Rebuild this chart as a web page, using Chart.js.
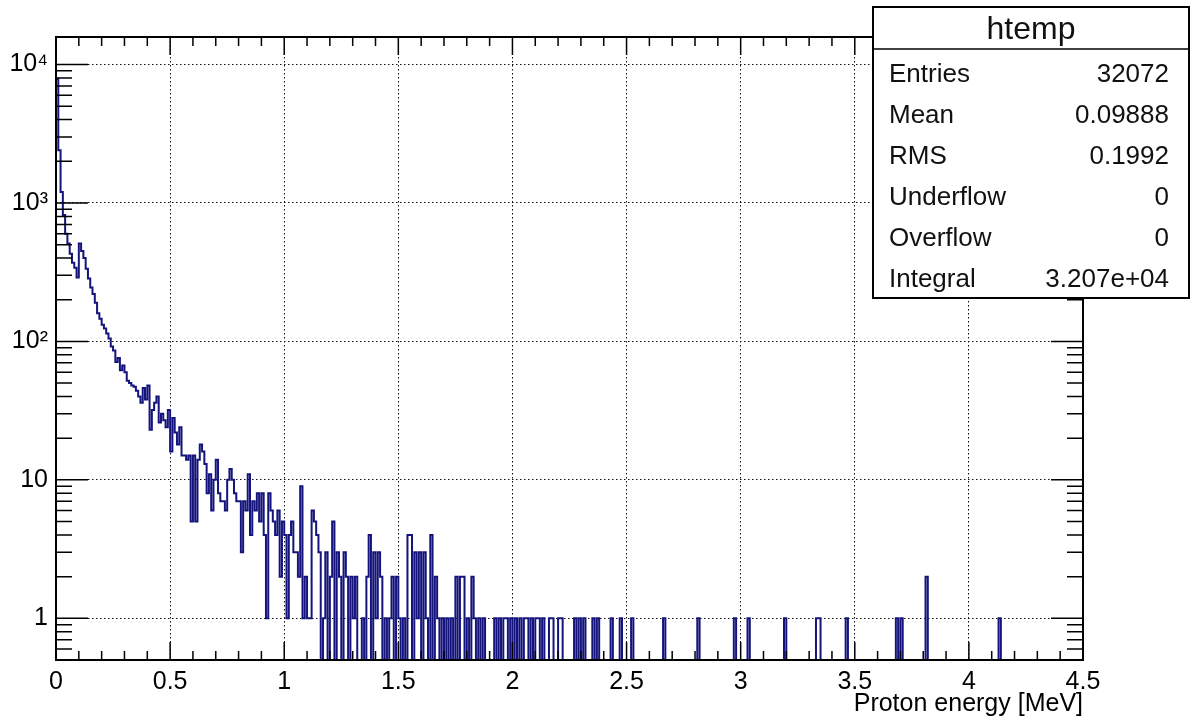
<!DOCTYPE html>
<html>
<head>
<meta charset="utf-8">
<script src="https://cdn.jsdelivr.net/npm/chart.js@4/dist/chart.umd.min.js"></script>
<style>
  html, body { margin: 0; padding: 0; background: #fff; }
  canvas { display: block; }
</style>
</head>
<body>
<canvas id="histo" width="1197" height="720"></canvas>
<script>
// Histogram binning (htemp, 0 - 4.5 MeV)
const xMin = 0;
const xMax = 4.5;
const nBins = 450;

// Bin contents, bins 0..187
const countsHead = [
  7900, 2400, 1200, 820, 600, 510, 430, 370, 340, 290,
  510, 450, 400, 335, 285, 245, 220, 190, 160, 146,
  132, 124, 114, 105, 92, 86, 71, 76, 62, 67,
  60, 52, 50, 48, 47, 44, 40, 36, 46, 38,
  48, 23, 32, 36, 40, 26, 30, 27, 24, 32,
  16, 28, 22, 18, 24, 15, 15, 14, 15, 5,
  15, 5, 14, 18, 16, 13, 8, 11, 6, 10,
  14, 8, 7, 7, 6, 10, 12, 10, 8, 7,
  7, 3, 7, 6, 11, 4, 7, 6, 8, 5,
  8, 4, 1, 8, 6, 5, 4, 6, 2, 5,
  4, 1, 4, 5, 3, 3, 2, 9, 1, 2,
  1, 1, 6, 5, 4, 3, 0, 1, 3, 0,
  2, 5, 0, 3, 2, 0, 3, 2, 0, 2,
  1, 2, 0, 0, 1, 0, 2, 4, 0, 3,
  1, 3, 2, 0, 1, 0, 1, 2, 0, 2,
  1, 0, 1, 0, 4, 4, 0, 3, 1, 3,
  0, 3, 1, 0, 4, 0, 2, 1, 0, 1,
  0, 1, 0, 1, 0, 2, 0, 2, 2, 0,
  1, 0, 2, 1, 0, 1, 0, 1
];

// Sparse tail: non-empty bins above bin 187
const tailBins = [192, 194, 196, 197, 199, 201, 203, 205, 206, 208, 210, 211, 213, 216, 217,
  220, 221, 227, 229, 231, 235, 237, 243, 247, 252, 266, 281, 297, 303,
  319, 333, 334, 346, 368, 370, 381, 413];
const tailCounts = [1, 1, 1, 1, 1, 1, 1, 1, 1, 1, 1, 1, 1, 1, 1,
  1, 1, 1, 1, 1, 1, 1, 1, 1, 1, 1, 1, 1, 1,
  1, 1, 1, 1, 1, 1, 2, 1];

// Axis ticks
const xTickValues = [0, 0.5, 1, 1.5, 2, 2.5, 3, 3.5, 4, 4.5];
const xTickLabels = ['0', '0.5', '1', '1.5', '2', '2.5', '3', '3.5', '4', '4.5'];
const yTickValues = [1, 10, 100, 1000, 10000];
const yTickLabels = ['1', '10', '10\u00B2', '10\u00B3', '10\u2074'];
const yMin = 0.5;
const yMax = 15800;

// Stats box
const statTitle = 'htemp';
const statLabels = ['Entries', 'Mean', 'RMS', 'Underflow', 'Overflow', 'Integral'];
const statValues = ['32072', '0.09888', '0.1992', '0', '0', '3.207e+04'];

const FONT = "'Liberation Sans', Arial, Helvetica, sans-serif";

// build full bin array
const counts = new Array(nBins).fill(0);
countsHead.forEach((c, i) => { counts[i] = c; });
tailBins.forEach((b, i) => { counts[b] = tailCounts[i]; });

// step points at bin left edges (+ closing edge); empty bins sit on the frame bottom
const binW = (xMax - xMin) / nBins;
const points = counts.map((c, i) => ({ x: xMin + i * binW, y: c > 0 ? c : yMin }));
points.push({ x: xMax, y: counts[nBins - 1] > 0 ? counts[nBins - 1] : yMin });

const rootFrame = {
  id: 'rootFrame',
  afterDatasetsDraw(chart) {
    const { ctx, chartArea: a, scales: { x, y } } = chart;
    ctx.save();
    ctx.strokeStyle = '#000';
    ctx.lineWidth = 1.5;
    ctx.beginPath();
    // x ticks, every 0.1, major every 0.5
    for (let k = 0; k <= 45; k++) {
      const px = x.getPixelForValue(k / 10);
      const len = k % 5 === 0 ? 18 : 9;
      ctx.moveTo(px, a.bottom); ctx.lineTo(px, a.bottom - len);
      ctx.moveTo(px, a.top); ctx.lineTo(px, a.top + len);
    }
    // y ticks, log decades with minors
    for (let d = -1; d <= 4; d++) {
      for (let k = 1; k <= 9; k++) {
        const v = k * Math.pow(10, d);
        if (v < yMin || v > yMax) continue;
        const py = y.getPixelForValue(v);
        const len = k === 1 ? 32 : 16;
        ctx.moveTo(a.left, py); ctx.lineTo(a.left + len, py);
        ctx.moveTo(a.right, py); ctx.lineTo(a.right - len, py);
      }
    }
    ctx.stroke();
    ctx.lineWidth = 2;
    ctx.strokeRect(a.left, a.top, a.right - a.left, a.bottom - a.top);
    ctx.restore();
  },
  afterDraw(chart) {
    const { ctx } = chart;
    const bx = 873, by = 7, bw = 316, bh = 291;
    ctx.save();
    ctx.fillStyle = '#fff';
    ctx.fillRect(bx, by, bw, bh);
    ctx.strokeStyle = '#000';
    ctx.lineWidth = 2;
    ctx.strokeRect(bx, by, bw, bh);
    ctx.lineWidth = 1.5;
    ctx.beginPath();
    ctx.moveTo(bx, 49); ctx.lineTo(bx + bw, 49);
    ctx.stroke();
    ctx.fillStyle = '#111';
    ctx.textBaseline = 'alphabetic';
    ctx.font = '32px ' + FONT;
    ctx.textAlign = 'center';
    ctx.fillText(statTitle, bx + bw / 2, 39);
    ctx.font = '26px ' + FONT;
    statLabels.forEach((lab, i) => {
      const yb = 81.5 + i * 41;
      ctx.textAlign = 'left';
      ctx.fillText(lab, 889, yb);
      ctx.textAlign = 'right';
      ctx.fillText(statValues[i], 1169, yb);
    });
    ctx.restore();
  }
};

new Chart(document.getElementById('histo'), {
  type: 'line',
  data: {
    datasets: [{
      label: 'htemp',
      data: points,
      stepped: 'before',
      borderColor: '#14147c',
      borderWidth: 2,
      pointRadius: 0,
      fill: false,
      tension: 0,
      clip: 0
    }]
  },
  options: {
    responsive: false,
    animation: false,
    devicePixelRatio: 1,
    layout: { padding: { left: 0, top: 37, right: 114, bottom: 0 } },
    plugins: {
      legend: { display: false },
      tooltip: { enabled: false }
    },
    scales: {
      x: {
        type: 'linear',
        min: xMin,
        max: xMax,
        afterBuildTicks: (s) => { s.ticks = xTickValues.map(v => ({ value: v })); },
        afterFit: (s) => { s.height = 60; },
        ticks: {
          autoSkip: false,
          maxRotation: 0,
          padding: 7,
          color: '#000',
          font: { family: FONT, size: 25 },
          callback: (v, i) => xTickLabels[i]
        },
        grid: { color: '#111', lineWidth: 1, drawTicks: false },
        border: { display: false, dash: [1.5, 2.5] },
        title: {
          display: true,
          text: 'Proton energy [MeV]',
          align: 'end',
          color: '#000',
          font: { family: FONT, size: 25 },
          padding: { top: 0, bottom: 1 }
        }
      },
      y: {
        type: 'logarithmic',
        min: yMin,
        max: yMax,
        afterBuildTicks: (s) => { s.ticks = yTickValues.map(v => ({ value: v })); },
        afterFit: (s) => { s.width = 56; },
        ticks: {
          padding: 8,
          color: '#000',
          font: { family: FONT, size: 25 },
          callback: (v, i) => yTickLabels[i]
        },
        grid: { color: '#111', lineWidth: 1, drawTicks: false },
        border: { display: false, dash: [1.5, 2.5] }
      }
    }
  },
  plugins: [rootFrame]
});
</script>
</body>
</html>
